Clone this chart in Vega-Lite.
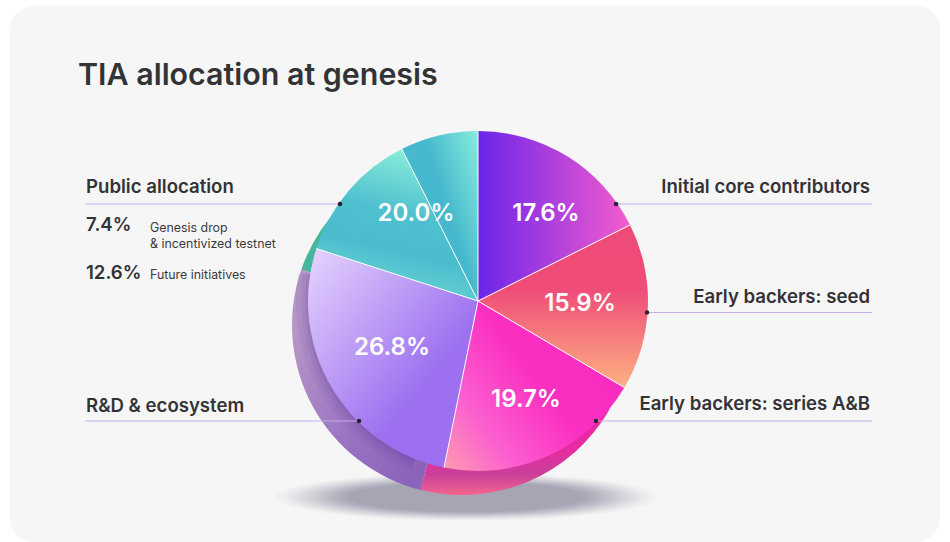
{
"$schema":"https://vega.github.io/schema/vega-lite/v6.json",
"width":950,"height":542,"autosize":{"type":"fit","contains":"padding"},"padding":0,
"background":"#ffffff",
"config":{"view":{"stroke":null},"axis":{"disable":true},"legend":{"disable":true}},
"datasets":{
"slices":[
{"segment":"Initial core contributors","share":0.176},
{"segment":"Early backers: seed","share":0.159},
{"segment":"Early backers: series A&B","share":0.197},
{"segment":"R&D & ecosystem","share":0.268},
{"segment":"Future initiatives","share":0.126},
{"segment":"Genesis drop & incentivized testnet","share":0.074}
],
"back":[
{"segment":"Early backers: series A&B","start":0.333,"end":0.539},
{"segment":"R&D & ecosystem","start":0.539,"end":0.803},
{"segment":"Public allocation","start":0.803,"end":0.87}
],
"rim":[{"start":0.56,"end":0.775}],
"shadow":[{"ring":1},{"ring":2},{"ring":3},{"ring":4},{"ring":5},{"ring":6},{"ring":7},{"ring":8},{"ring":9},{"ring":10},{"ring":11},{"ring":12},{"ring":13},{"ring":14},{"ring":15},{"ring":16},{"ring":17},{"ring":18},{"ring":19},{"ring":20}]
},
"data":{"name":"slices"},
"transform":[{"stack":"share","groupby":[],"as":["a0","a1"]}],
"layer":[
{"data":{"values":[{"label":"card"}]},"mark":{"type":"rect","color":"#f6f6f6","cornerRadius":24},
"encoding":{"x":{"datum":10,"type":"quantitative","scale":{"domain":[0,950],"nice":false,"zero":false}},"x2":{"datum":940},"y":{"datum":6,"type":"quantitative","scale":{"domain":[542,0],"nice":false,"zero":false}},"y2":{"datum":542}}},
{"data":{"name":"shadow"},"mark":{"type":"point","filled":true,"color":"#3c3c5c","opacity":0.028,"stroke":null,"shape":"M-1,0A1,0.125 0 1,1 1,0A1,0.125 0 1,1 -1,0Z"},
"encoding":{"x":{"datum":466,"type":"quantitative","scale":{"domain":[0,950]}},"y":{"datum":497,"type":"quantitative","scale":{"domain":[542,0]}},"size":{"field":"ring","type":"quantitative","scale":{"type":"pow","exponent":0.5,"domain":[1,20],"range":[145000,55000],"zero":false}}}},

{"data":{"name":"back"},"transform":[{"filter":"datum.segment=='Public allocation'"}],"mark":{"type":"arc","radius":170,"color":"#46b79c"},
"encoding":{"x":{"datum":462,"type":"quantitative","scale":{"domain":[0,950]}},"y":{"datum":325,"type":"quantitative","scale":{"domain":[542,0]}},"theta":{"field":"start","type":"quantitative","scale":{"domain":[0,1]}},"theta2":{"field":"end"}}},
{"data":{"name":"back"},"transform":[{"filter":"datum.segment=='R&D & ecosystem'"}],"mark":{"type":"arc","radius":170,"color":{"x1":0,"y1":0.3,"x2":1,"y2":1,"gradient":"linear","stops":[{"offset":0,"color":"#b596c6"},{"offset":0.45,"color":"#9a72c2"},{"offset":0.8,"color":"#8a62ba"},{"offset":1,"color":"#ab80c0"}]}},
"encoding":{"x":{"datum":462,"type":"quantitative","scale":{"domain":[0,950]}},"y":{"datum":325,"type":"quantitative","scale":{"domain":[542,0]}},"theta":{"field":"start","type":"quantitative","scale":{"domain":[0,1]}},"theta2":{"field":"end"}}},
{"data":{"name":"back"},"transform":[{"filter":"datum.segment=='Early backers: series A&B'"}],"mark":{"type":"arc","radius":170,"color":{"x1":0,"y1":0,"x2":0,"y2":1,"gradient":"linear","stops":[{"offset":0,"color":"#f02aa8"},{"offset":0.72,"color":"#e82aa0"},{"offset":0.88,"color":"#c9409a"},{"offset":1,"color":"#f2668c"}]}},
"encoding":{"x":{"datum":462,"type":"quantitative","scale":{"domain":[0,950]}},"y":{"datum":325,"type":"quantitative","scale":{"domain":[542,0]}},"theta":{"field":"start","type":"quantitative","scale":{"domain":[0,1]}},"theta2":{"field":"end"}}},

{"data":{"name":"rim"},"mark":{"type":"arc","radius":182,"color":"#4a2a90","opacity":0.07},
"encoding":{"x":{"datum":478,"type":"quantitative","scale":{"domain":[0,950]}},"y":{"datum":301,"type":"quantitative","scale":{"domain":[542,0]}},"theta":{"field":"start","type":"quantitative","scale":{"domain":[0,1]}},"theta2":{"field":"end"}}},
{"data":{"name":"rim"},"mark":{"type":"arc","radius":177,"color":"#4a2a90","opacity":0.08},
"encoding":{"x":{"datum":478,"type":"quantitative","scale":{"domain":[0,950]}},"y":{"datum":301,"type":"quantitative","scale":{"domain":[542,0]}},"theta":{"field":"start","type":"quantitative","scale":{"domain":[0,1]}},"theta2":{"field":"end"}}},
{"data":{"name":"rim"},"mark":{"type":"arc","radius":173,"color":"#4a2a90","opacity":0.1},
"encoding":{"x":{"datum":478,"type":"quantitative","scale":{"domain":[0,950]}},"y":{"datum":301,"type":"quantitative","scale":{"domain":[542,0]}},"theta":{"field":"start","type":"quantitative","scale":{"domain":[0,1]}},"theta2":{"field":"end"}}},

{"transform":[{"filter":"datum.segment=='Initial core contributors'"}],"mark":{"type":"arc","radius":170,"color":{"x1":0,"y1":0,"x2":1,"y2":0,"gradient":"linear","stops":[{"offset":0,"color":"#6a25ea"},{"offset":1,"color":"#f45ccd"}]}},
"encoding":{"x":{"datum":478,"type":"quantitative","scale":{"domain":[0,950]}},"y":{"datum":301,"type":"quantitative","scale":{"domain":[542,0]}},"theta":{"field":"a0","type":"quantitative","scale":{"domain":[0,1]}},"theta2":{"field":"a1"}}},
{"transform":[{"filter":"datum.segment=='Early backers: seed'"}],"mark":{"type":"arc","radius":170,"color":{"x1":0,"y1":0,"x2":0,"y2":1,"gradient":"linear","stops":[{"offset":0,"color":"#ee4a78"},{"offset":0.4,"color":"#ef4d78"},{"offset":1,"color":"#fdb183"}]}},
"encoding":{"x":{"datum":478,"type":"quantitative","scale":{"domain":[0,950]}},"y":{"datum":301,"type":"quantitative","scale":{"domain":[542,0]}},"theta":{"field":"a0","type":"quantitative","scale":{"domain":[0,1]}},"theta2":{"field":"a1"}}},
{"transform":[{"filter":"datum.segment=='Early backers: series A&B'"}],"mark":{"type":"arc","radius":170,"color":{"x1":0,"y1":1,"x2":0.9,"y2":0.35,"gradient":"linear","stops":[{"offset":0,"color":"#fe9db0"},{"offset":0.3,"color":"#fb5fcf"},{"offset":0.65,"color":"#fb30c2"},{"offset":1,"color":"#f92cc0"}]}},
"encoding":{"x":{"datum":478,"type":"quantitative","scale":{"domain":[0,950]}},"y":{"datum":301,"type":"quantitative","scale":{"domain":[542,0]}},"theta":{"field":"a0","type":"quantitative","scale":{"domain":[0,1]}},"theta2":{"field":"a1"}}},
{"transform":[{"filter":"datum.segment=='R&D & ecosystem'"}],"mark":{"type":"arc","radius":170,"color":{"x1":0,"y1":0,"x2":0.85,"y2":0.9,"gradient":"linear","stops":[{"offset":0,"color":"#e6d4fd"},{"offset":0.75,"color":"#9c70f0"},{"offset":1,"color":"#9c70f0"}]}},
"encoding":{"x":{"datum":478,"type":"quantitative","scale":{"domain":[0,950]}},"y":{"datum":301,"type":"quantitative","scale":{"domain":[542,0]}},"theta":{"field":"a0","type":"quantitative","scale":{"domain":[0,1]}},"theta2":{"field":"a1"}}},
{"transform":[{"filter":"datum.segment=='Future initiatives'"}],"mark":{"type":"arc","radius":170,"color":{"x1":0.55,"y1":0,"x2":0.35,"y2":0.8,"gradient":"linear","stops":[{"offset":0,"color":"#8aedd9"},{"offset":0.5,"color":"#4fc0cf"},{"offset":0.8,"color":"#4abcce"},{"offset":1,"color":"#5ccad0"}]}},
"encoding":{"x":{"datum":478,"type":"quantitative","scale":{"domain":[0,950]}},"y":{"datum":301,"type":"quantitative","scale":{"domain":[542,0]}},"theta":{"field":"a0","type":"quantitative","scale":{"domain":[0,1]}},"theta2":{"field":"a1"}}},
{"transform":[{"filter":"datum.segment=='Genesis drop & incentivized testnet'"}],"mark":{"type":"arc","radius":170,"color":{"x1":1,"y1":0,"x2":0.3,"y2":0.5,"gradient":"linear","stops":[{"offset":0,"color":"#86eddc"},{"offset":0.7,"color":"#46b8cd"},{"offset":1,"color":"#47b8cd"}]}},
"encoding":{"x":{"datum":478,"type":"quantitative","scale":{"domain":[0,950]}},"y":{"datum":301,"type":"quantitative","scale":{"domain":[542,0]}},"theta":{"field":"a0","type":"quantitative","scale":{"domain":[0,1]}},"theta2":{"field":"a1"}}},

{"data":{"values":[{"tx":478,"ty":131},{"tx":630,"ty":225},{"tx":624.3,"ty":387.5},{"tx":444,"ty":467.6},{"tx":316.3,"ty":248.5},{"tx":401.8,"ty":149}]},"mark":{"type":"rule","color":"#ffffff","strokeWidth":1},
"encoding":{"x":{"field":"tx","type":"quantitative","scale":{"domain":[0,950]}},"y":{"field":"ty","type":"quantitative","scale":{"domain":[542,0]}},"x2":{"datum":478},"y2":{"datum":301}}},

{"data":{"values":[{"from":85,"to":340,"at":204},{"from":85,"to":359,"at":421},{"from":616,"to":872,"at":204},{"from":647,"to":872,"at":312.5},{"from":596,"to":872,"at":421}]},"mark":{"type":"rule","color":"#c4aeea","strokeWidth":1},
"encoding":{"x":{"field":"from","type":"quantitative","scale":{"domain":[0,950]}},"x2":{"field":"to"},"y":{"field":"at","type":"quantitative","scale":{"domain":[542,0]}}}},
{"data":{"values":[{"from":340,"at":204},{"from":359,"at":421},{"from":616,"at":204},{"from":647,"at":312.5},{"from":596,"at":421}]},"mark":{"type":"point","filled":true,"color":"#26262e","opacity":1,"size":20},
"encoding":{"x":{"field":"from","type":"quantitative","scale":{"domain":[0,950]}},"y":{"field":"at","type":"quantitative","scale":{"domain":[542,0]}}}},

{"data":{"values":[
{"share":0.176,"lx":546,"ly":214},{"share":0.159,"lx":580,"ly":304},{"share":0.197,"lx":526,"ly":400},{"share":0.268,"lx":392,"ly":348},{"share":0.2,"lx":416,"ly":214}]},
"mark":{"type":"text","font":"Inter","fontWeight":600,"fontSize":24,"color":"#ffffff","align":"center","baseline":"middle"},
"encoding":{"x":{"field":"lx","type":"quantitative","scale":{"domain":[0,950]}},"y":{"field":"ly","type":"quantitative","scale":{"domain":[542,0]}},"text":{"field":"share","type":"quantitative","format":".1%"}}},

{"data":{"values":[{"label":"TIA allocation at genesis","lx":78,"ly":85}]},
"mark":{"type":"text","font":"Inter","fontWeight":600,"fontSize":30.4,"color":"#333336","align":"left","baseline":"alphabetic"},
"encoding":{"x":{"field":"lx","type":"quantitative","scale":{"domain":[0,950]}},"y":{"field":"ly","type":"quantitative","scale":{"domain":[542,0]}},"text":{"field":"label"}}},
{"data":{"values":[{"label":"Public allocation","lx":86,"ly":193},{"label":"R&D & ecosystem","lx":86,"ly":412},{"label":"7.4%","lx":86,"ly":231},{"label":"12.6%","lx":86,"ly":279}]},
"mark":{"type":"text","font":"Inter","fontWeight":600,"fontSize":18.6,"color":"#333336","align":"left","baseline":"alphabetic"},
"encoding":{"x":{"field":"lx","type":"quantitative","scale":{"domain":[0,950]}},"y":{"field":"ly","type":"quantitative","scale":{"domain":[542,0]}},"text":{"field":"label"}}},
{"data":{"values":[{"label":"Initial core contributors","lx":870,"ly":193},{"label":"Early backers: seed","lx":870,"ly":303},{"label":"Early backers: series A&B","lx":870,"ly":410}]},
"mark":{"type":"text","font":"Inter","fontWeight":600,"fontSize":18.6,"color":"#333336","align":"right","baseline":"alphabetic"},
"encoding":{"x":{"field":"lx","type":"quantitative","scale":{"domain":[0,950]}},"y":{"field":"ly","type":"quantitative","scale":{"domain":[542,0]}},"text":{"field":"label"}}},
{"data":{"values":[{"label":"Genesis drop","lx":150,"ly":232},{"label":"& incentivized testnet","lx":150,"ly":248},{"label":"Future initiatives","lx":150,"ly":279}]},
"mark":{"type":"text","font":"Inter","fontWeight":400,"fontSize":12.4,"color":"#3a3a3e","align":"left","baseline":"alphabetic"},
"encoding":{"x":{"field":"lx","type":"quantitative","scale":{"domain":[0,950]}},"y":{"field":"ly","type":"quantitative","scale":{"domain":[542,0]}},"text":{"field":"label"}}}
]
}
